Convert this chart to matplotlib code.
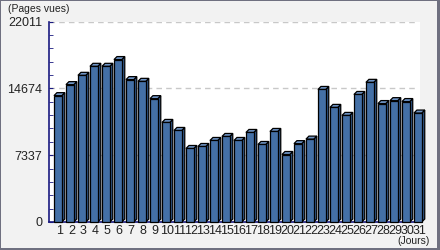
import numpy as np
import matplotlib
matplotlib.use('Agg')
import matplotlib.pyplot as plt
from matplotlib.patches import Polygon, Rectangle

# daily page views
days = list(range(1, 32))
views = [13870, 15080, 16100, 17090, 17090, 17830, 15630, 15440, 13540, 10930,
         10050, 8070, 8290, 8950, 9390, 8950, 9830, 8510, 9940, 7410,
         8600, 9100, 14550, 12580, 11700, 14000, 15330, 13000, 13320, 13220, 11960]
yticks = [0, 7337, 14674, 22011]

plt.rcParams['font.family'] = ['Liberation Sans', 'DejaVu Sans']

fig = plt.figure(figsize=(4.4, 2.5), dpi=100)
fig.patch.set_facecolor('#f2f2f2')
# dark frame, thicker on right/bottom
frame = '#6f7080'
fig.patches.append(Rectangle((0, 0), 1, 2.5/250, transform=fig.transFigure,
                             facecolor=frame, edgecolor='none', zorder=5))
fig.patches.append(Rectangle((437/440, 0), 3/440, 1, transform=fig.transFigure,
                             facecolor=frame, edgecolor='none', zorder=5))
fig.patches.append(Rectangle((0, 0), 1/440, 1, transform=fig.transFigure,
                             facecolor=frame, edgecolor='none', zorder=5))
fig.patches.append(Rectangle((0, 249/250), 1, 1/250, transform=fig.transFigure,
                             facecolor=frame, edgecolor='none', zorder=5))

ax = fig.add_axes([49/440, 28/250, 371/440, 200.5/250])
ax.set_facecolor('white')

w = 0.65      # front face width
dx = 0.25     # depth, x
dy = 330      # depth, y
off = -0.12
front = '#4470a6'
top_c = '#6f95c6'
side_c = '#2f5585'
for d, v in zip(days, views):
    x0 = d + off - w/2
    x1 = x0 + w
    ax.add_patch(Polygon([(x1, 0), (x1 + dx, dy), (x1 + dx, v + dy), (x1, v)],
                         closed=True, facecolor=side_c, edgecolor='black', lw=0.9,
                         clip_on=False, zorder=3))
    ax.add_patch(Polygon([(x0, v), (x0 + dx, v + dy), (x1 + dx, v + dy), (x1, v)],
                         closed=True, facecolor=top_c, edgecolor='black', lw=0.9,
                         clip_on=False, zorder=3))
    ax.add_patch(Rectangle((x0, 0), w, v, facecolor=front, edgecolor='black', lw=0.9,
                           clip_on=False, zorder=4))

ax.set_xlim(0.14, 31.06)
ax.set_ylim(0, 22011)
ax.set_yticks(yticks)
ax.set_yticklabels([str(t) for t in yticks])
ax.set_yticks(np.arange(0, 22011, 7337/5), minor=True)
ax.set_xticks(days)
ax.set_xticklabels([str(d) for d in days])

for t in yticks[1:]:
    ax.axhline(t, color='#c8c8c8', lw=1, ls=(0, (4, 3)), zorder=1, xmax=0.995)

for s in ['top', 'right']:
    ax.spines[s].set_visible(False)
ax.spines['left'].set_color('#1a1a80')
ax.spines['bottom'].set_color('#1a1a80')
ax.spines['left'].set_linewidth(1.2)
ax.spines['bottom'].set_linewidth(1.2)
ax.tick_params(axis='y', which='both', direction='in', length=3, color='#1a1a80',
               labelsize=9, pad=5, labelcolor='#222222')
ax.tick_params(axis='x', length=0, labelsize=9, pad=2, labelcolor='#222222')

fig.text(8/440, 1 - 9/250, '(Pages vues)', fontsize=7.5, color='#222222', va='center', ha='left')
fig.text(430/440, 1 - 241/250, '(Jours)', fontsize=7.5, color='#222222', va='center', ha='right')

fig.savefig('out.png', dpi=100, facecolor=fig.get_facecolor())
